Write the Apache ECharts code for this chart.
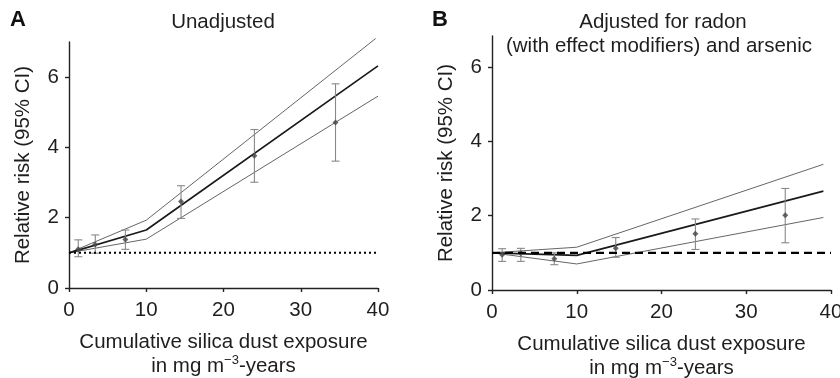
<!DOCTYPE html>
<html>
<head>
<meta charset="utf-8">
<script src="https://cdn.jsdelivr.net/npm/echarts@6/dist/echarts.min.js"></script>
<style>
html,body{margin:0;padding:0;background:#fff;}
#chart{width:840px;height:378px;}
</style>
</head>
<body>
<div id="chart"></div>
<script>
// ---- Data ----
// Panel A (unadjusted)
const aFitX   = [0, 10, 40];
const aFit    = [1.0, 1.65, 6.32];
const aUpperX = [0, 10, 39.7];
const aUpper  = [1.0, 1.93, 7.1];
const aLowerX = [0, 10, 40];
const aLower  = [1.0, 1.39, 5.46];
const aPtX = [1.2, 3.4, 7.3, 14.5, 24.0, 34.5];
const aPtY = [1.10, 1.24, 1.38, 2.46, 3.76, 4.71];
const aLo  = [0.89, 0.99, 1.10, 1.98, 3.01, 3.61];
const aHi  = [1.37, 1.51, 1.65, 2.91, 4.51, 5.81];
// Panel B (adjusted)
const bFitX = [0, 10, 39.1];
const bFit   = [1.0, 0.93, 2.66];
const bUpper = [1.0, 1.15, 3.38];
const bLower = [1.0, 0.70, 1.95];
const bPtX = [1.2, 3.4, 7.35, 14.6, 24.0, 34.6];
const bPtY = [0.95, 0.99, 0.84, 1.12, 1.51, 2.01];
const bLo  = [0.77, 0.77, 0.68, 0.88, 1.09, 1.27];
const bHi  = [1.11, 1.12, 1.00, 1.41, 1.91, 2.73];
// Reference line (RR = 1)
const refX = [0, 40];
const refY = [1, 1];
// Ticks
const xTicks = [0, 10, 20, 30, 40];
const yTicks = [0, 2, 4, 6];
const titleA = 'Unadjusted';
const titleB1 = 'Adjusted for radon';
const titleB2 = '(with effect modifiers) and arsenic';
const yName = 'Relative risk (95% CI)';
const xName = 'Cumulative silica dust exposure\nin mg m{sup|\u22123}-years';

// ---- Build ----
const FONT = '"Liberation Sans", Arial, sans-serif';
const FS = 20.5;
const TXT = '#1e1e1e';
const AX = '#222';

const zip = (xs, ys) => xs.map((x, i) => [x, ys[i]]);
const errData = (xs, lo, hi) => xs.map((x, i) => [x, lo[i], hi[i]]);

function errRender(params, api) {
  const x = api.value(0);
  const p1 = api.coord([x, api.value(1)]);
  const p2 = api.coord([x, api.value(2)]);
  const w = 4;
  const st = {stroke: '#888', lineWidth: 1.1};
  return {
    type: 'group',
    children: [
      {type: 'line', shape: {x1: p1[0], y1: p1[1], x2: p2[0], y2: p2[1]}, style: st},
      {type: 'line', shape: {x1: p1[0]-w, y1: p1[1], x2: p1[0]+w, y2: p1[1]}, style: st},
      {type: 'line', shape: {x1: p2[0]-w, y1: p2[1], x2: p2[0]+w, y2: p2[1]}, style: st}
    ]
  };
}

function xAxisCfg(gi) {
  return {
    type: 'value', gridIndex: gi, min: 0, max: 40, interval: 10,
    splitLine: {show: false},
    axisLine: {lineStyle: {color: AX, width: 1.4}},
    axisTick: {length: 4, lineStyle: {color: AX, width: 1.4}, customValues: xTicks},
    axisLabel: {color: TXT, fontSize: FS, fontFamily: FONT, margin: 12, customValues: xTicks},
    name: xName, nameLocation: 'middle', nameGap: 42,
    nameTextStyle: {
      color: TXT, fontSize: FS, fontFamily: FONT, lineHeight: 24, align: 'center',
      rich: {sup: {fontSize: 13, fontFamily: FONT, color: TXT, verticalAlign: 'top', lineHeight: 24}}
    }
  };
}
function yAxisCfg(gi, ymax) {
  return {
    type: 'value', gridIndex: gi, min: 0, max: ymax,
    splitLine: {show: false},
    axisLine: {show: true, lineStyle: {color: AX, width: 1.4}},
    axisTick: {show: true, length: 4, lineStyle: {color: AX, width: 1.4}, customValues: yTicks},
    axisLabel: {color: TXT, fontSize: FS, fontFamily: FONT, margin: 10, customValues: yTicks},
    name: yName, nameLocation: 'middle', nameGap: 35, nameRotate: 90,
    nameTextStyle: {color: TXT, fontSize: FS, fontFamily: FONT}
  };
}

function lineSeries(gi, data, color, width, z, type) {
  return {
    type: 'line', xAxisIndex: gi, yAxisIndex: gi, data: data,
    showSymbol: false, symbol: 'none', clip: false, silent: true, z: z,
    lineStyle: {color: color, width: width, type: type || 'solid'}
  };
}

const option = {
  animation: false,
  backgroundColor: '#fff',
  grid: [
    {left: 69, top: 42, width: 309, height: 246, containLabel: false, outerBoundsMode: 'none'},
    {left: 492, top: 36, width: 339, height: 254, containLabel: false, outerBoundsMode: 'none'}
  ],
  xAxis: [xAxisCfg(0), xAxisCfg(1)],
  yAxis: [yAxisCfg(0, 7), yAxisCfg(1, 6.83)],
  graphic: [
    {type: 'text', x: 10, y: 20, style: {text: 'A', fontSize: 22, fontWeight: 'bold', fontFamily: FONT, fill: '#111', verticalAlign: 'middle'}},
    {type: 'text', x: 432, y: 20, style: {text: 'B', fontSize: 22, fontWeight: 'bold', fontFamily: FONT, fill: '#111', verticalAlign: 'middle'}},
    {type: 'text', x: 223, y: 22, style: {text: titleA, fontSize: FS, fontFamily: FONT, fill: TXT, align: 'center', verticalAlign: 'middle'}},
    {type: 'text', x: 663, y: 22, style: {text: titleB1, fontSize: FS, fontFamily: FONT, fill: TXT, align: 'center', verticalAlign: 'middle'}},
    {type: 'text', x: 659, y: 46, style: {text: titleB2, fontSize: FS, fontFamily: FONT, fill: TXT, align: 'center', verticalAlign: 'middle'}}
  ],
  series: [
    // Panel A
    lineSeries(0, zip(aUpperX, aUpper), '#666', 1, 2),
    lineSeries(0, zip(aLowerX, aLower), '#666', 1, 2),
    lineSeries(0, zip(aFitX, aFit), '#1a1a1a', 1.7, 3),
    {type: 'custom', xAxisIndex: 0, yAxisIndex: 0, renderItem: errRender, data: errData(aPtX, aLo, aHi), z: 4, silent: true},
    {type: 'scatter', xAxisIndex: 0, yAxisIndex: 0, data: zip(aPtX, aPtY), symbol: 'diamond', symbolSize: 6, itemStyle: {color: '#444'}, z: 5, silent: true},
    lineSeries(0, zip(refX, refY), '#000', 2, 6, [2, 3]),
    // Panel B
    lineSeries(1, zip(bFitX, bUpper), '#666', 1, 2),
    lineSeries(1, zip(bFitX, bLower), '#666', 1, 2),
    lineSeries(1, zip(bFitX, bFit), '#1a1a1a', 1.7, 3),
    {type: 'custom', xAxisIndex: 1, yAxisIndex: 1, renderItem: errRender, data: errData(bPtX, bLo, bHi), z: 4, silent: true},
    {type: 'scatter', xAxisIndex: 1, yAxisIndex: 1, data: zip(bPtX, bPtY), symbol: 'diamond', symbolSize: 6, itemStyle: {color: '#444'}, z: 5, silent: true},
    lineSeries(1, zip(refX, refY), '#000', 2.2, 6, [8, 5])
  ]
};

const chart = echarts.init(document.getElementById('chart'), null, {renderer: 'canvas'});
chart.setOption(option);
</script>
</body>
</html>
